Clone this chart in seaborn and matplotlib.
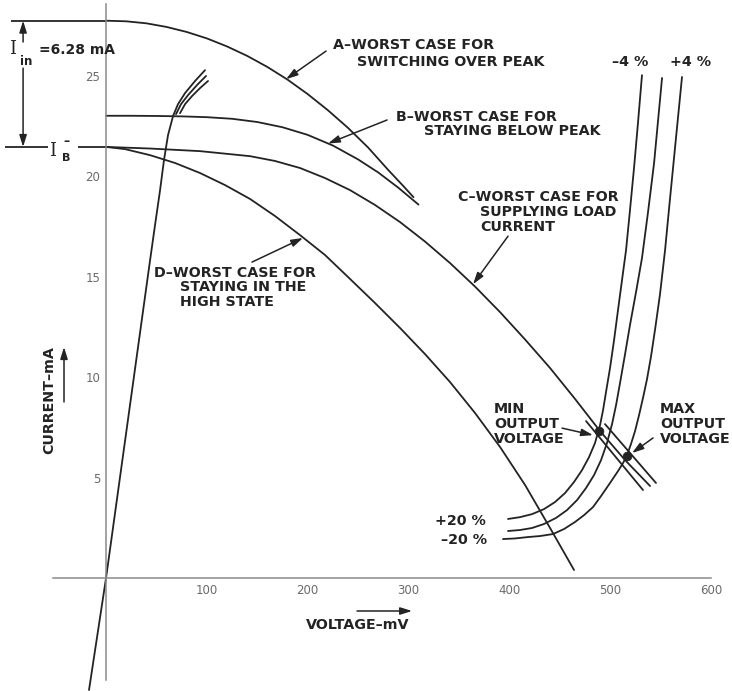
import numpy as np
import pandas as pd
import matplotlib
matplotlib.use("Agg")
import matplotlib.pyplot as plt
import seaborn as sns

sns.set_style("white")
plt.rcParams["font.family"] = ["DejaVu Sans"]

INK = "#232323"
AXIS = "#8a8a8a"

# Input-current window (mA)
I_B = 21.45
I_IN = 6.28
I_PEAK = I_B + I_IN

# A - worst case for switching over peak  (V in mV, I in mA)
a_v = [0, 20, 40, 60, 80, 100, 120, 140, 160, 180, 200, 220, 240, 260, 280, 295, 305]
a_i = [I_PEAK, 27.70, 27.60, 27.42, 27.17, 26.85, 26.45, 25.98, 25.43, 24.80, 24.08,
       23.28, 22.40, 21.42, 20.30, 19.50, 18.95]

# B - worst case for staying below peak
b_v = [0, 25, 50, 75, 100, 125, 150, 175, 200, 225, 250, 270, 290, 310]
b_i = [23.0, 23.0, 22.99, 22.97, 22.93, 22.85, 22.69, 22.43, 22.05, 21.52, 20.83,
       20.18, 19.42, 18.58]

# C - worst case for supplying load current
c_v = [0, 43.7, 93.3, 142.9, 167.7, 192.5, 217.3, 242.1, 266.9, 291.7, 316.5, 341.3,
       366.1, 390.9, 415.7, 440.5, 465.3, 490.1, 514.9, 539.7]
c_i = [I_B, 21.37, 21.24, 20.99, 20.75, 20.40, 19.90, 19.30, 18.56, 17.71, 16.74, 15.67,
       14.50, 13.23, 11.87, 10.45, 8.91, 7.31, 5.87, 4.58]

# tolerance band drawn alongside the end of C
c_lo_v = [476.2, 532.7]
c_lo_i = [7.81, 4.38]
c_hi_v = [495.0, 545.6]
c_hi_i = [7.66, 4.73]

# D - worst case for staying in the high state
d_v = [0, 18.9, 43.7, 68.5, 93.3, 118.1, 142.9, 167.7, 192.5, 217.3, 242.1, 266.9,
       291.7, 316.5, 341.3, 366.1, 390.9, 415.7, 440.5, 464.3]
d_i = [I_B, 21.34, 21.04, 20.65, 20.15, 19.55, 18.86, 18.01, 17.06, 16.07, 14.88, 13.68,
       12.44, 11.14, 9.75, 8.21, 6.52, 4.63, 2.49, 0.40]

# low-voltage branch through the origin, with its spread at the top
r_v = [-16.9, 0, 43.7, 48.6, 53.6, 57.5, 61.5, 66.5, 71.4, 78.4, 88.3, 98.2]
r_i = [-5.57, 0, 15.82, 17.56, 19.30, 20.80, 22.04, 22.99, 23.58, 24.13, 24.73, 25.27]
r2_v = [69.4, 74.4, 81.4, 90.3, 99.2]
r2_i = [23.08, 23.58, 24.03, 24.53, 24.98]
r3_v = [73.4, 78.4, 85.3, 93.3, 101.2]
r3_i = [23.13, 23.58, 23.98, 24.38, 24.73]

# output-stage characteristics (+20 % / -4 % ... -20 % / +4 %)
o1_v = [398.8, 410.7, 422.6, 434.5, 445.4, 455.4, 464.3, 472.2, 479.2, 485.1, 490.1,
        493.1, 496.0, 500.0, 504.0, 507.9, 511.9, 515.9, 519.8, 523.8, 527.8, 531.7]
o1_i = [2.94, 3.03, 3.18, 3.43, 3.78, 4.23, 4.78, 5.37, 6.02, 6.72, 7.61, 8.36, 9.25,
        10.45, 11.84, 13.33, 14.83, 16.32, 18.31, 20.40, 22.69, 25.02]
o2_v = [398.8, 410.7, 422.6, 434.5, 446.4, 457.3, 467.3, 476.2, 484.1, 491.1, 497.0,
        502.0, 506.0, 509.9, 514.9, 519.8, 525.8, 531.7, 537.7, 543.7, 547.6, 551.6]
o2_i = [2.34, 2.39, 2.49, 2.69, 2.99, 3.38, 3.88, 4.48, 5.12, 5.87, 6.72, 7.66, 8.61,
        9.70, 11.14, 12.59, 14.23, 15.92, 18.21, 20.65, 22.74, 24.88]
o3_v = [393.8, 405.8, 418.7, 430.6, 443.5, 454.4, 465.3, 474.2, 483.1, 491.1, 500.0,
        507.9, 512.9, 516.9, 520.8, 524.8, 528.8, 532.7, 536.7, 540.7, 544.6, 549.6,
        554.6, 558.5, 562.5, 566.5, 571.4]
o3_i = [1.94, 1.97, 2.04, 2.09, 2.19, 2.44, 2.79, 3.13, 3.53, 4.08, 4.73, 5.32, 5.72,
        6.12, 6.67, 7.31, 8.11, 8.96, 9.90, 11.04, 12.34, 14.13, 16.32, 18.36, 20.40,
        22.44, 24.93]

# operating points
op_v = [489.1, 516.9]
op_i = [7.31, 6.07]

x_ticks = [100, 200, 300, 400, 500, 600]
y_ticks = [5, 10, 15, 20, 25]

curves = [
    ("A", a_v, a_i), ("B", b_v, b_i), ("C", c_v, c_i),
    ("C_lo", c_lo_v, c_lo_i), ("C_hi", c_hi_v, c_hi_i),
    ("D", d_v, d_i), ("R", r_v, r_i), ("R2", r2_v, r2_i), ("R3", r3_v, r3_i),
    ("O1", o1_v, o1_i), ("O2", o2_v, o2_i), ("O3", o3_v, o3_i),
]
df = pd.concat(
    [pd.DataFrame({"V": v, "I": i, "curve": n}) for n, v, i in curves],
    ignore_index=True,
)

fig = plt.figure(figsize=(7.32, 6.91), dpi=100)
ax = fig.add_axes([0, 0, 1, 1])
ax.set_xlim(-105.2, 621.0)
ax.set_ylim(-5.62, 28.76)

sns.lineplot(data=df, x="V", y="I", units="curve", estimator=None, sort=False,
             color=INK, linewidth=1.3, ax=ax, legend=False)
sns.scatterplot(x=op_v, y=op_i, color=INK, s=40, edgecolor=INK, ax=ax, zorder=5)

# reference levels at the left
ax.hlines(I_PEAK, -94.2, 0, color=INK, lw=1.3)
ax.hlines(I_B, -100.2, -57.5, color=INK, lw=1.3)
ax.hlines(I_B, -27.8, 0, color=INK, lw=1.3)

# axes through the origin
for side in ("top", "right"):
    ax.spines[side].set_visible(False)
ax.spines["left"].set_position(("data", 0))
ax.spines["bottom"].set_position(("data", 0))
ax.spines["left"].set_bounds(-5.07, 28.56)
ax.spines["bottom"].set_bounds(-52.6, 600)
for side in ("left", "bottom"):
    ax.spines[side].set_color(AXIS)
    ax.spines[side].set_linewidth(1.1)
ax.set_xticks(x_ticks)
ax.set_yticks(y_ticks)
ax.set_xticklabels([str(t) for t in x_ticks])
ax.set_yticklabels([str(t) for t in y_ticks])
ax.tick_params(direction="in", length=4, width=1, color=AXIS, labelcolor="#6a6a6a",
               labelsize=8.5, pad=4)
ax.set_xlabel("")
ax.set_ylabel("")

lab = dict(color=INK, fontsize=10.3, fontweight="bold", va="center", ha="left")
ax.text(225.2, 26.52, "A–WORST CASE FOR", **lab)
ax.text(249.0, 25.67, "SWITCHING OVER PEAK", **lab)
ax.text(287.7, 22.94, "B–WORST CASE FOR", **lab)
ax.text(315.5, 22.24, "STAYING BELOW PEAK", **lab)
ax.text(349.2, 18.96, "C–WORST CASE FOR", **lab)
ax.text(371.0, 18.21, "SUPPLYING LOAD", **lab)
ax.text(371.0, 17.46, "CURRENT", **lab)
ax.text(47.6, 15.17, "D–WORST CASE FOR", **lab)
ax.text(73.4, 14.48, "STAYING IN THE", **lab)
ax.text(73.4, 13.73, "HIGH STATE", **lab)
ax.text(384.9, 8.41, "MIN", **lab)
ax.text(384.9, 7.66, "OUTPUT", **lab)
ax.text(384.9, 6.92, "VOLTAGE", **lab)
ax.text(549.6, 8.41, "MAX", **lab)
ax.text(549.6, 7.66, "OUTPUT", **lab)
ax.text(549.6, 6.92, "VOLTAGE", **lab)
ax.text(377, 2.84, "+20 %", **{**lab, "ha": "right"})
ax.text(378, 1.89, "–20 %", **{**lab, "ha": "right"})
ax.text(502, 25.67, "–4 %", **lab)
ax.text(559.5, 25.67, "+4 %", **lab)
ax.text(198.4, -2.34, "VOLTAGE–mV", **lab)
ax.text(-56.5, 8.86, "CURRENT–mA", rotation=90, **{**lab, "ha": "center"})

# current-window annotation
ax.text(-92.3, 26.32, "I", family="DejaVu Serif", fontsize=13, color=INK, ha="center", va="center")
ax.text(-85.3, 25.72, "in", fontsize=8.5, color=INK, fontweight="bold", ha="left", va="center")
ax.text(-66.5, 26.27, "=6.28 mA", fontsize=10, color=INK, fontweight="bold", ha="left", va="center")
ax.text(-52.6, 21.25, "I", family="DejaVu Serif", fontsize=13, color=INK, ha="center", va="center")
ax.text(-39.7, 20.9, "B", fontsize=8, color=INK, fontweight="bold", ha="center", va="center")
ax.text(-39.7, 21.7, "–", fontsize=9, color=INK, fontweight="bold", ha="center", va="center")

arrow = dict(arrowstyle="-|>,head_length=0.7,head_width=0.22", color=INK, lw=1.1,
             shrinkA=0, shrinkB=0)
pointers = [
    ((218.3, 26.22), (178.6, 24.82)),
    ((278.8, 22.79), (220.2, 21.62)),
    ((398.8, 17.01), (364.1, 14.62)),
    ((144.8, 15.72), (195.4, 16.92)),
    ((452.4, 7.46), (483.1, 7.11)),
    ((542.7, 6.97), (521.8, 6.22)),
    ((-82.3, 26.67), (-82.3, I_PEAK)),
    ((-82.3, 25.37), (-82.3, I_B)),
    ((-41.7, 8.76), (-41.7, 11.49)),
    ((249.0, -1.64), (303.6, -1.64)),
]
for tail, head in pointers:
    ax.annotate("", xy=head, xytext=tail, arrowprops=arrow)

fig.savefig("out.png", dpi=100)
